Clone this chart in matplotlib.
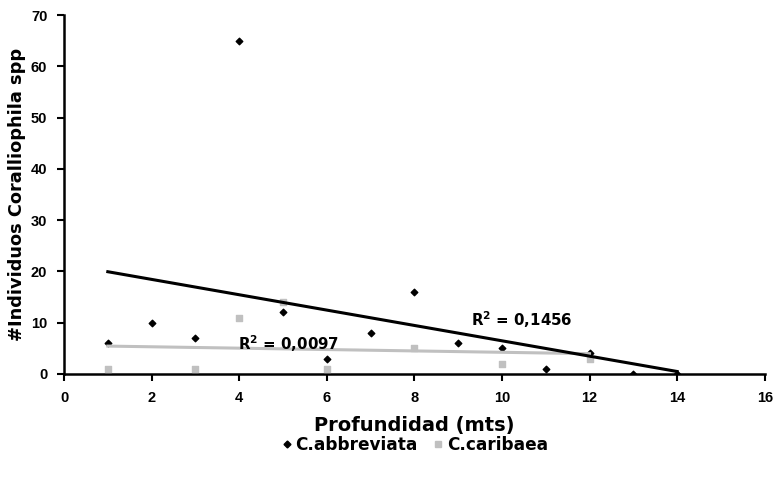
import numpy as np
import matplotlib
matplotlib.use("Agg")
import matplotlib.pyplot as plt
from matplotlib.lines import Line2D

# depth (m) and counts
abbr_x = [1, 2, 3, 4, 5, 6, 7, 8, 9, 10, 11, 12, 13, 14]
abbr_y = [6, 10, 7, 65, 12, 3, 8, 16, 6, 5, 1, 4, 0, 0]
carib_x = [1, 3, 4, 5, 6, 8, 10, 12]
carib_y = [1, 1, 11, 14, 1, 5, 2, 3]

x_ticks = [0, 2, 4, 6, 8, 10, 12, 14, 16]
y_ticks = [0, 10, 20, 30, 40, 50, 60, 70]

GRAY = "#c0c0c0"

plt.rcParams["font.family"] = "Liberation Sans"
plt.rcParams["font.weight"] = "bold"


def trend(x, y):
    x = np.asarray(x, float)
    y = np.asarray(y, float)
    m, b = np.polyfit(x, y, 1)
    pred = m * x + b
    r2 = 1 - np.sum((y - pred) ** 2) / np.sum((y - y.mean()) ** 2)
    xs = np.array([x.min(), x.max()])
    return xs, m * xs + b, r2


fig = plt.figure(figsize=(7.74, 4.78), dpi=100)
ax = fig.add_axes([0.0827, 0.2176, 0.9053, 0.751])

ax.scatter(carib_x, carib_y, marker="s", s=24, color=GRAY, zorder=3)
ax.scatter(abbr_x, abbr_y, marker="D", s=11, color="black", zorder=4)

cx, cy, cr2 = trend(carib_x, carib_y)
ax.plot(cx, cy, color=GRAY, lw=2.2, zorder=5)
axx, ayy, ar2 = trend(abbr_x, abbr_y)
ax.plot(axx, ayy, color="black", lw=2.2, zorder=5)

lab_font = dict(family="DejaVu Sans", fontweight="bold", fontsize=10.8)
ax.text(9.3, 10.5, f"R$^2$ = {ar2:.4f}".replace(".", ","), va="center", **lab_font)
ax.text(3.97, 6.0, f"R$^2$ = {cr2:.4f}".replace(".", ","), va="center", zorder=6, **lab_font)

ax.set_xlim(0, 16)
ax.set_ylim(0, 70)
ax.set_xticks(x_ticks)
ax.set_yticks(y_ticks)
ax.tick_params(labelsize=10.5)

for side in ("top", "right"):
    ax.spines[side].set_visible(False)
for side in ("left", "bottom"):
    ax.spines[side].set_linewidth(1.8)
ax.tick_params(direction="out", length=5, width=1.5, pad=7)

ax.set_xlabel("Profundidad (mts)", family="DejaVu Sans", fontweight="bold",
              fontsize=14, labelpad=8)
ax.set_ylabel("#Individuos Coralliophila spp", family="DejaVu Sans",
              fontweight="bold", fontsize=12.8)
ax.yaxis.set_label_coords(-0.054, 0.5)

handles = [
    Line2D([], [], marker="D", ls="", color="black", markersize=3.5),
    Line2D([], [], marker="s", ls="", color=GRAY, markersize=5),
]
fig.legend(handles, ["C.abbreviata", "C.caribaea"], loc="center",
           bbox_to_anchor=(0.535, 0.069), ncol=2, frameon=False,
           handletextpad=0.1, columnspacing=0.8, handlelength=0.8,
           prop=dict(family="DejaVu Sans", weight="bold", size=12.2))

fig.savefig("out.png", dpi=100)
